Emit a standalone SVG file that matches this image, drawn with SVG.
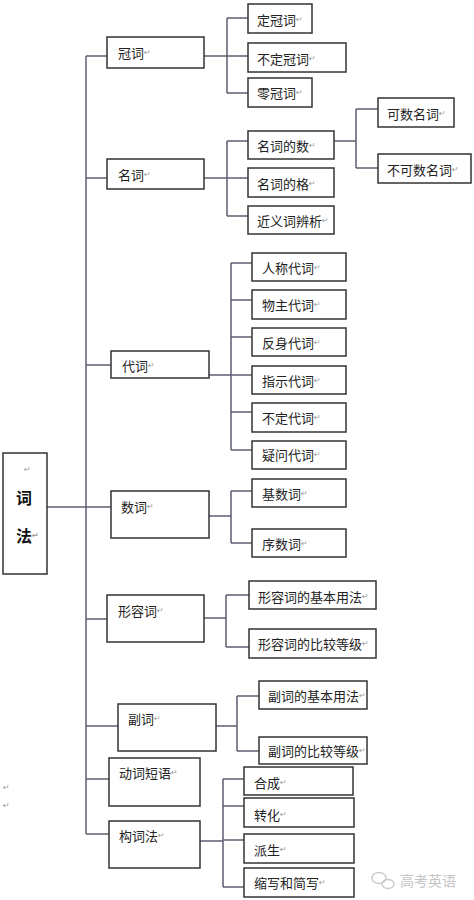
<svg xmlns="http://www.w3.org/2000/svg" width="474" height="900" viewBox="0 0 474 900">
<style>
.box{fill:#fff;stroke:#333;stroke-width:1.5}
.t{font-family:"Noto Sans CJK SC","Noto Sans",sans-serif;font-size:13px;fill:#222;dominant-baseline:central}
.r{font-family:"DejaVu Sans",sans-serif;font-size:8px;fill:#999}
.root{font-family:"Noto Sans CJK SC",sans-serif;font-size:16px;font-weight:bold;fill:#111;dominant-baseline:central}
.ln{fill:none;stroke:#5c5f72;stroke-width:1.5}
.wm{font-family:"Noto Sans CJK SC",sans-serif;font-size:14px;fill:#c4c4c4;dominant-baseline:central}
</style>
<rect width="474" height="900" fill="#fff"/>
<g id="connectors" class="ln">
<path d="M47,507 H111"/>
<path d="M86,56 V834"/>
<path d="M86,56 H107 M86,178 H107 M86,365 H111 M86,619 H107 M86,726 H118 M86,779 H109 M86,834 H109"/>
<path d="M204,56 H248 M227,18 V93 M227,18 H248 M227,93 H248"/>
<path d="M204,178 H248 M227,141 V216 M227,141 H248 M227,216 H248"/>
<path d="M334,141 H356 M356,109 V168 M356,109 H378 M356,168 H378"/>
<path d="M209,375 H252 M231,263 V450 M231,263 H252 M231,300 H252 M231,337 H252 M231,412 H252 M231,450 H252"/>
<path d="M209,516 H231 M231,491 V543 M231,491 H252 M231,543 H252"/>
<path d="M204,618 H226 M226,595 V647 M226,595 H249 M226,647 H249"/>
<path d="M216,726 H237 M237,696 V751 M237,696 H259 M237,751 H259"/>
<path d="M200,841 H223 M223,779 V887 M223,779 H244 M223,806 H244 M223,840 H244 M223,887 H244"/>
</g>
<g id="root"><rect class="box" x="3" y="453" width="44" height="121"/><text class="r" x="24" y="472">↵</text><text class="root" x="16" y="497">词</text><text class="root" x="16" y="535">法<tspan class="r">↵</tspan></text></g>
<g id="n-guanci"><rect class="box" x="107" y="37" width="97" height="31"/><text class="t" x="118" y="52">冠词<tspan class="r">↵</tspan></text></g>
<g id="n-mingci"><rect class="box" x="107" y="159" width="97" height="30"/><text class="t" x="118" y="174">名词<tspan class="r">↵</tspan></text></g>
<g id="n-daici"><rect class="box" x="111" y="351" width="98" height="27"/><text class="t" x="122" y="365">代词<tspan class="r">↵</tspan></text></g>
<g id="n-shuci"><rect class="box" x="111" y="491" width="98" height="47"/><text class="t" x="121" y="506">数词<tspan class="r">↵</tspan></text></g>
<g id="n-xingrongci"><rect class="box" x="107" y="595" width="97" height="47"/><text class="t" x="118" y="610">形容词<tspan class="r">↵</tspan></text></g>
<g id="n-fuci"><rect class="box" x="118" y="704" width="98" height="47"/><text class="t" x="128" y="718">副词<tspan class="r">↵</tspan></text></g>
<g id="n-dongcíduanyu"><rect class="box" x="109" y="758" width="91" height="48"/><text class="t" x="119" y="772">动词短语<tspan class="r">↵</tspan></text></g>
<g id="n-goucifa"><rect class="box" x="109" y="821" width="91" height="47"/><text class="t" x="119" y="835">构词法<tspan class="r">↵</tspan></text></g>
<g id="n-dingguanci"><rect class="box" x="248" y="4" width="64" height="29"/><text class="t" x="257" y="19">定冠词<tspan class="r">↵</tspan></text></g>
<g id="n-budingguanci"><rect class="box" x="248" y="43" width="98" height="29"/><text class="t" x="257" y="58">不定冠词<tspan class="r">↵</tspan></text></g>
<g id="n-lingguanci"><rect class="box" x="248" y="78" width="64" height="29"/><text class="t" x="257" y="92">零冠词<tspan class="r">↵</tspan></text></g>
<g id="n-mingcideshu"><rect class="box" x="248" y="131" width="86" height="28"/><text class="t" x="257" y="145">名词的数<tspan class="r">↵</tspan></text></g>
<g id="n-mingcidege"><rect class="box" x="248" y="168" width="86" height="29"/><text class="t" x="257" y="183">名词的格<tspan class="r">↵</tspan></text></g>
<g id="n-jinyici"><rect class="box" x="248" y="206" width="86" height="28"/><text class="t" x="257" y="220">近义词辨析<tspan class="r">↵</tspan></text></g>
<g id="n-keshu"><rect class="box" x="378" y="98" width="76" height="29"/><text class="t" x="387" y="113">可数名词<tspan class="r">↵</tspan></text></g>
<g id="n-bukeshu"><rect class="box" x="378" y="154" width="93" height="29"/><text class="t" x="387" y="169">不可数名词<tspan class="r">↵</tspan></text></g>
<g id="n-rencheng"><rect class="box" x="252" y="253" width="94" height="28"/><text class="t" x="262" y="267">人称代词<tspan class="r">↵</tspan></text></g>
<g id="n-wuzhu"><rect class="box" x="252" y="290" width="94" height="29"/><text class="t" x="262" y="304">物主代词<tspan class="r">↵</tspan></text></g>
<g id="n-fanshen"><rect class="box" x="252" y="328" width="94" height="28"/><text class="t" x="262" y="342">反身代词<tspan class="r">↵</tspan></text></g>
<g id="n-zhishi"><rect class="box" x="252" y="366" width="94" height="28"/><text class="t" x="262" y="380">指示代词<tspan class="r">↵</tspan></text></g>
<g id="n-buding"><rect class="box" x="252" y="403" width="94" height="29"/><text class="t" x="262" y="417">不定代词<tspan class="r">↵</tspan></text></g>
<g id="n-yiwen"><rect class="box" x="252" y="441" width="94" height="28"/><text class="t" x="262" y="454">疑问代词<tspan class="r">↵</tspan></text></g>
<g id="n-jishu"><rect class="box" x="252" y="479" width="94" height="28"/><text class="t" x="262" y="493">基数词<tspan class="r">↵</tspan></text></g>
<g id="n-xushu"><rect class="box" x="252" y="529" width="94" height="28"/><text class="t" x="262" y="543">序数词<tspan class="r">↵</tspan></text></g>
<g id="n-xr-jiben"><rect class="box" x="249" y="581" width="127" height="28"/><text class="t" x="258" y="596">形容词的基本用法<tspan class="r">↵</tspan></text></g>
<g id="n-xr-bijiao"><rect class="box" x="249" y="629" width="127" height="29"/><text class="t" x="258" y="643">形容词的比较等级<tspan class="r">↵</tspan></text></g>
<g id="n-fu-jiben"><rect class="box" x="259" y="681" width="108" height="28"/><text class="t" x="268" y="695">副词的基本用法<tspan class="r">↵</tspan></text></g>
<g id="n-fu-bijiao"><rect class="box" x="259" y="737" width="108" height="27"/><text class="t" x="268" y="750">副词的比较等级<tspan class="r">↵</tspan></text></g>
<g id="n-hecheng"><rect class="box" x="244" y="767" width="109" height="28"/><text class="t" x="254" y="782">合成<tspan class="r">↵</tspan></text></g>
<g id="n-zhuanhua"><rect class="box" x="244" y="798" width="110" height="29"/><text class="t" x="254" y="814">转化<tspan class="r">↵</tspan></text></g>
<g id="n-paisheng"><rect class="box" x="244" y="834" width="110" height="29"/><text class="t" x="254" y="849">派生<tspan class="r">↵</tspan></text></g>
<g id="n-suoxie"><rect class="box" x="244" y="868" width="110" height="29"/><text class="t" x="254" y="882">缩写和简写<tspan class="r">↵</tspan></text></g>
<text class="r" x="3" y="790">↵</text>
<text class="r" x="3" y="808">↵</text>
<g id="watermark">
<ellipse cx="379" cy="878" rx="7" ry="5.5" fill="none" stroke="#c8c8c8" stroke-width="1.3"/>
<ellipse cx="388" cy="884" rx="6" ry="4.5" fill="none" stroke="#c8c8c8" stroke-width="1.3"/>
<text class="wm" x="400" y="880">高考英语</text>
</g>
</svg>
